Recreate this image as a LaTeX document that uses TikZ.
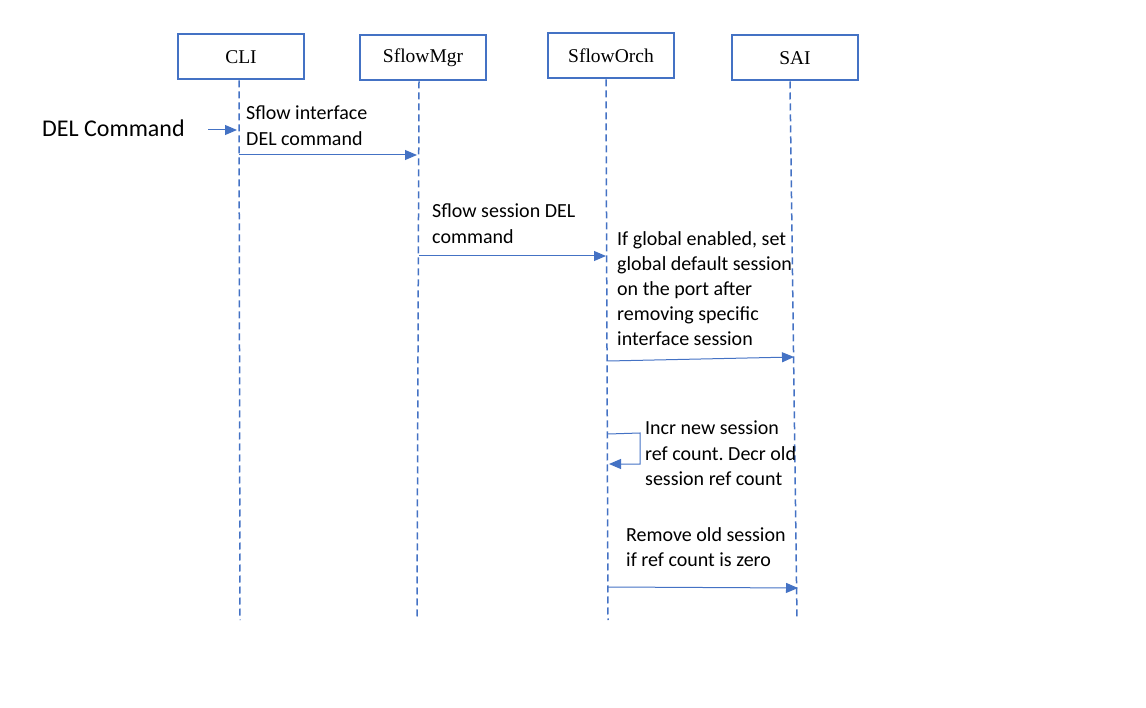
\documentclass[tikz,border=0pt]{standalone}
\usepackage{fontspec}
\setmainfont{Carlito}
\newfontfamily\boxfont{Liberation Serif}
\usetikzlibrary{arrows.meta}
\definecolor{msblue}{HTML}{4472C4}
\frenchspacing
\begin{document}
\begin{tikzpicture}[x=1pt,y=-1pt,
  actor/.style={draw=msblue,line width=2pt,minimum width=126pt,minimum height=45pt,inner sep=0pt,font=\boxfont\fontsize{19.5}{22}\selectfont},
  life/.style={draw=msblue,line width=1.5pt,dash pattern=on 7pt off 4pt},
  msg/.style={draw=msblue,line width=1pt,-{Triangle[length=12pt,width=10pt]}},
  lbl/.style={anchor=north west,inner sep=0pt,align=left,font=\fontsize{20}{25.2}\selectfont}]
\useasboundingbox (0,0) rectangle (1146,708);
% actors
\node[actor] (cli)  at (241,57) {CLI};
\node[actor] (mgr)  at (423,58) {SflowMgr};
\node[actor] (orch) at (611,56) {SflowOrch};
\node[actor] (sai)  at (795,58) {SAI};
% lifeline ends
\coordinate (cliE)  at (240,620);
\coordinate (mgrE)  at (417,620);
\coordinate (orchE) at (608,620);
\coordinate (saiE)  at (797,620);
\draw[life] (cli.south -| 239,0) -- (cliE);
\draw[life] (mgr.south -| 419,0) -- (mgrE);
\draw[life] (orch.south -| 606,0) -- (orchE);
\draw[life] (sai.south -| 790,0) -- (saiE);
% DEL command
\node[anchor=west,inner sep=0pt,font=\fontsize{24}{28}\selectfont] (del) at (42,128) {DEL Command};
\coordinate (delS) at (208,130);
\coordinate (delE) at (237,130);
\draw[msg] (delS) -- (delE);
% message 1
\coordinate (m1s) at (239,155);
\coordinate (m1e) at (417,155);
\draw[msg] (m1s) -- (m1e);
\node[lbl] (l1) at (246,106) {Sflow interface\\DEL command};
% message 2
\coordinate (m2s) at (419,256);
\coordinate (m2e) at (606,256);
\draw[msg] (m2s) -- (m2e);
\node[lbl] (l2) at (432,204) {Sflow session DEL\\command};
% message 3
\coordinate (m3s) at (608,361);
\coordinate (m3e) at (794,357);
\draw[msg] (m3s) -- (m3e);
\node[lbl] (l3) at (617,231) {If global enabled, set\\global default session\\on the port after\\removing specific\\interface session};
% self message
\coordinate (s1) at (608,434);
\coordinate (s2) at (640,433);
\coordinate (s3) at (640,464);
\coordinate (s4) at (609,464);
\draw[msg] (s1) -- (s2) -- (s3) -- (s4);
\node[lbl] (l4) at (645,421) {Incr new session\\ref count. Decr old\\session ref count};
% message 4
\coordinate (m4s) at (608,587);
\coordinate (m4e) at (798,588);
\draw[msg] (m4s) -- (m4e);
\node[lbl] (l5) at (626,527) {Remove old session\\if ref count is zero};
\end{tikzpicture}
\end{document}
